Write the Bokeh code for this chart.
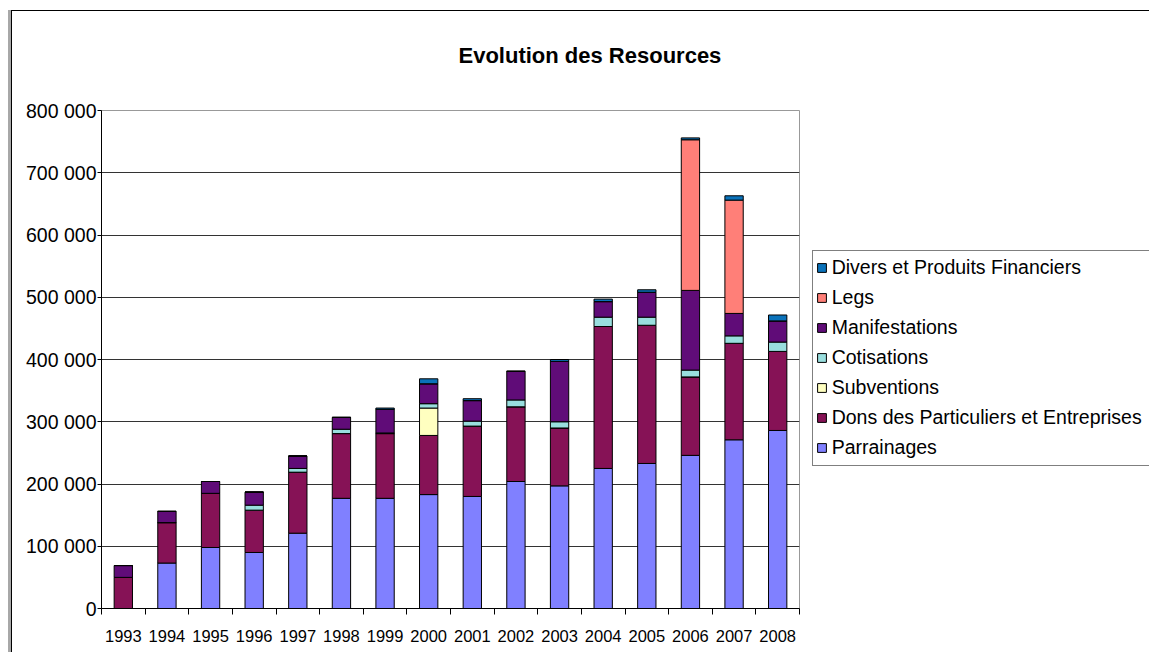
from bokeh.plotting import figure
from bokeh.models import (Range1d, FixedTicker, SingleIntervalTicker, CustomJSTickFormatter,
                          Legend, LegendItem, ColumnDataSource)
from bokeh.embed import file_html
from bokeh.resources import INLINE

# ---- data ----
years = [1993, 1994, 1995, 1996, 1997, 1998, 1999, 2000,
         2001, 2002, 2003, 2004, 2005, 2006, 2007, 2008]
parrainages = [0, 73000, 98000, 90000, 121000, 177000, 177000, 183000,
               180000, 204000, 197000, 225000, 233000, 246000, 271000, 286000]
dons = [50000, 65000, 87000, 68000, 98000, 104000, 104000, 95000,
        113000, 120000, 93000, 228000, 222000, 126000, 155000, 127000]
subventions = [0, 0, 0, 0, 0, 0, 0, 44000, 0, 0, 0, 0, 0, 0, 0, 0]
cotisations = [0, 0, 0, 8000, 6000, 7000, 1000, 7000,
               8000, 11000, 10000, 15000, 13000, 11000, 12000, 15000]
manifestations = [19000, 18000, 19000, 21000, 20000, 19000, 38000, 32000,
                  33000, 46000, 97000, 25000, 40000, 128000, 36000, 34000]
legs = [0, 0, 0, 0, 0, 0, 0, 0, 0, 0, 0, 0, 0, 242000, 182000, 0]
divers = [0, 0, 0, 0, 0, 0, 2000, 8000, 3000, 0, 3000, 4000, 4000, 3000, 7000, 9500]

series_keys = ["parrainages", "dons", "subventions", "cotisations",
               "manifestations", "legs", "divers"]
series_labels = ["Parrainages", "Dons des Particuliers et Entreprises", "Subventions",
                 "Cotisations", "Manifestations", "Legs", "Divers et Produits Financiers"]
series_colors = ["#8080FF", "#861256", "#FFFFC0", "#99DEDE", "#600C78", "#FF7F78", "#0A72BA"]
year_labels = [str(y) for y in years]

FONT = "Liberation Sans"

x_pos = [i + 0.5 for i in range(len(years))]
source = ColumnDataSource(dict(
    x=x_pos, parrainages=parrainages, dons=dons, subventions=subventions,
    cotisations=cotisations, manifestations=manifestations, legs=legs, divers=divers))

p = figure(frame_width=698, frame_height=498,
           x_range=Range1d(0, len(years)), y_range=Range1d(0, 800000),
           output_backend="svg", toolbar_location=None,
           min_border_left=101, min_border_right=350,
           min_border_top=110, min_border_bottom=44,
           background_fill_color="white", border_fill_color="white",
           border_fill_alpha=0)
p.outline_line_color = "#999999"

# chart-area frame (grey band on the left, thin black line on top)
p.styles = {
    "background-color": "white",
    "background-image": ("linear-gradient(#000,#000), linear-gradient(#000,#000), "
                         "linear-gradient(#a8a8a8,#a8a8a8)"),
    "background-position": "11px 10px, 11px 10px, 8px 10px",
    "background-size": "100% 1px, 1px 100%, 3px 100%",
    "background-repeat": "no-repeat",
}

renderers = p.vbar_stack(series_keys, x="x", width=0.42, source=source,
                         fill_color=series_colors, line_color="black", line_width=1)

# title
p.title.text = "Evolution des Resources"
p.title.text_font = FONT
p.title.text_font_size = "22px"
p.title.text_font_style = "bold"
p.title.text_color = "black"
p.title.align = "left"
p.title.offset = 357
p.title.vertical_align = "top"
p.title.standoff = 82

# x axis: labels at category centres, tick marks at boundaries
p.xaxis.ticker = FixedTicker(ticks=x_pos, minor_ticks=list(range(len(years) + 1)))
p.xaxis.formatter = CustomJSTickFormatter(args=dict(labels=year_labels),
                                          code="return labels[Math.floor(tick)];")
p.xaxis.major_tick_line_color = None
p.xaxis.major_tick_out = 6
p.xaxis.minor_tick_line_color = "black"
p.xaxis.minor_tick_out = 6
p.xaxis.minor_tick_in = 0
p.xaxis.axis_line_color = "black"
p.xaxis.major_label_text_font = FONT
p.xaxis.major_label_text_font_size = "16.5px"
p.xaxis.major_label_text_color = "black"
p.xaxis.major_label_standoff = 15

# y axis
p.yaxis.ticker = SingleIntervalTicker(interval=100000, num_minor_ticks=0)
p.yaxis.formatter = CustomJSTickFormatter(
    code=r"return tick.toFixed(0).replace(/\B(?=(\d{3})+(?!\d))/g, ' ');")
p.yaxis.major_tick_out = 4
p.yaxis.major_tick_in = 0
p.yaxis.minor_tick_line_color = None
p.yaxis.axis_line_color = "black"
p.yaxis.major_label_text_font = FONT
p.yaxis.major_label_text_font_size = "19.5px"
p.yaxis.major_label_text_color = "black"
p.yaxis.major_label_standoff = 1

p.xgrid.visible = False
p.ygrid.ticker = SingleIntervalTicker(interval=100000, num_minor_ticks=0)
p.ygrid.grid_line_color = "#333333"

# legend (reverse stacking order, like the reference)
items = [LegendItem(label=series_labels[i], renderers=[renderers[i]])
         for i in reversed(range(len(series_keys)))]
legend = Legend(items=items, location=(12.7, 142.3), margin=0, padding=3,
                spacing=2, label_height=28, glyph_height=11, glyph_width=11,
                label_standoff=5, label_width=325,
                border_line_color="black", border_line_width=1,
                background_fill_color="white", background_fill_alpha=1,
                label_text_font=FONT, label_text_font_size="19.5px",
                label_text_color="black")
p.add_layout(legend, "right")

open("out.html", "w").write(file_html(p, INLINE))
